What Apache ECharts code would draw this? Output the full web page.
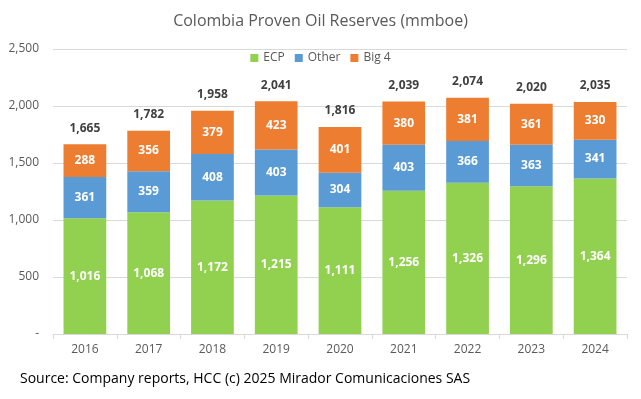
<!DOCTYPE html>
<html>
<head>
<meta charset="utf-8">
<script src="https://cdn.jsdelivr.net/npm/echarts@6/dist/echarts.min.js"></script>
<style>
  html, body { margin: 0; padding: 0; background: #fff; }
  #chart { width: 641px; height: 399px; }
</style>
</head>
<body>
<div id="chart"></div>
<script>
// 数据
var years = ['2016', '2017', '2018', '2019', '2020', '2021', '2022', '2023', '2024'];
var ecp = [1016, 1068, 1172, 1215, 1111, 1256, 1326, 1296, 1364];
var other = [361, 359, 408, 403, 304, 403, 366, 363, 341];
var big4 = [288, 356, 379, 423, 401, 380, 381, 361, 330];
var totals = [1665, 1782, 1958, 2041, 1816, 2039, 2074, 2020, 2035];

var font = 'Open Sans';

function fmt(v) {
    return v.toLocaleString('en-US');
}

var segLabel = {
    show: true,
    color: '#fff',
    fontWeight: 'bold',
    fontSize: 12,
    fontFamily: font,
    formatter: function (p) { return fmt(p.value); }
};

var chart = echarts.init(document.getElementById('chart'));
var option = {
    animation: false,
    title: {
        text: 'Colombia Proven Oil Reserves (mmboe)',
        left: 'center',
        top: 8,
        textStyle: { color: '#595959', fontSize: 16, fontWeight: 'normal', fontFamily: font }
    },
    legend: {
        data: ['ECP', 'Other', 'Big 4'],
        top: 47,
        left: 'center',
        itemWidth: 8,
        itemHeight: 8,
        itemGap: 10,
        icon: 'rect',
        textStyle: { color: '#595959', fontSize: 12, fontFamily: font }
    },
    graphic: [{
        type: 'text',
        left: 20,
        top: 372,
        style: {
            text: 'Source: Company reports, HCC (c) 2025 Mirador Comunicaciones SAS',
            fill: '#000',
            fontSize: 14,
            fontFamily: font
        }
    }],
    grid: { left: 53, right: 14, top: 49, bottom: 65 },
    xAxis: {
        type: 'category',
        data: years,
        axisLine: { lineStyle: { color: '#d9d9d9' } },
        axisTick: { show: true, lineStyle: { color: '#d9d9d9' } },
        axisLabel: { color: '#595959', fontSize: 12, fontFamily: font, margin: 10 }
    },
    yAxis: {
        type: 'value',
        min: 0,
        max: 2500,
        interval: 500,
        axisLine: { show: false },
        axisTick: { show: false },
        splitLine: { lineStyle: { color: '#d9d9d9' } },
        axisLabel: {
            color: '#595959', fontSize: 12, fontFamily: font, margin: 14,
            formatter: function (v) { return v === 0 ? '-' : fmt(v); }
        }
    },
    series: [
        {
            name: 'ECP', type: 'bar', stack: 'r', data: ecp, barWidth: '67%',
            itemStyle: { color: '#92D050' }, label: segLabel
        },
        {
            name: 'Other', type: 'bar', stack: 'r', data: other,
            itemStyle: { color: '#5B9BD5' }, label: segLabel
        },
        {
            name: 'Big 4', type: 'bar', stack: 'r', data: big4,
            itemStyle: { color: '#ED7D31' }, label: segLabel
        },
        {
            name: 'Total', type: 'bar', data: totals, barWidth: '67%', barGap: '-100%', z: 1,
            itemStyle: { color: 'rgba(0,0,0,0)' },
            label: {
                show: true, position: 'top', distance: 10,
                color: '#404040', fontWeight: 'bold', fontSize: 12, fontFamily: font,
                formatter: function (p) { return fmt(p.value); }
            }
        }
    ]
};
chart.setOption(option);
</script>
</body>
</html>
